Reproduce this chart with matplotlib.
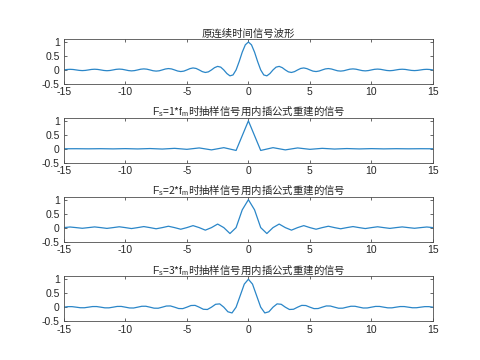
import numpy as np
import matplotlib
matplotlib.use("Agg")
import matplotlib.pyplot as plt

plt.rcParams["font.family"] = ["Liberation Sans", "Noto Sans CJK SC", "DejaVu Sans"]
plt.rcParams["mathtext.fontset"] = "custom"
plt.rcParams["mathtext.rm"] = "Liberation Sans"
plt.rcParams["mathtext.it"] = "Liberation Sans"
plt.rcParams["mathtext.default"] = "rm"
plt.rcParams["axes.unicode_minus"] = False

# values for t >= 0 (curves are symmetric about t = 0)
step_orig = 0.25
orig_half = [1.000, 0.900, 0.637, 0.300, 0.0, -0.180, -0.212, -0.129,
             0.0, 0.100, 0.127, 0.082, 0.0, -0.069, -0.091, -0.060,
             0.0, 0.053, 0.071, 0.047, 0.0, -0.043, -0.058, -0.039,
             0.0, 0.036, 0.049, 0.033, 0.0, -0.031, -0.042, -0.029,
             0.0, 0.027, 0.037, 0.026, 0.0, -0.024, -0.034, -0.023,
             0.0, 0.022, 0.030, 0.021, 0.0, -0.020, -0.028, -0.019,
             0.0, 0.018, 0.025, 0.018, 0.0, -0.017, -0.024, -0.016,
             0.0, 0.016, 0.022, 0.015, 0.0]

step_fs1 = 1.0
fs1_half = [1.0, -0.06, 0.04, -0.04, 0.03, -0.02, 0.015, -0.01,
            0.008, -0.006, 0.005, -0.004, 0.003, -0.002, 0.002, 0.0]

step_fs2 = 0.5
fs2_half = [1.000, 0.637, 0.0, -0.212, 0.0, 0.127, 0.0, -0.091,
            0.0, 0.071, 0.0, -0.058, 0.0, 0.049, 0.0, -0.042,
            0.0, 0.037, 0.0, -0.034, 0.0, 0.030, 0.0, -0.028,
            0.0, 0.025, 0.0, -0.024, 0.0, 0.022, 0.0]

step_fs3 = 1.0 / 3.0
fs3_half = [1.000, 0.827, 0.413, 0.0, -0.207, -0.165, 0.0, 0.118, 0.103,
            0.0, -0.083, -0.075, 0.0, 0.064, 0.059, 0.0, -0.052, -0.049,
            0.0, 0.044, 0.041, 0.0, -0.038, -0.036, 0.0, 0.033, 0.032,
            0.0, -0.030, -0.028, 0.0, 0.027, 0.026, 0.0, -0.024, -0.024,
            0.0, 0.022, 0.022, 0.0, -0.021, -0.020, 0.0, 0.019, 0.019, 0.0]

titles = ["原连续时间信号波形",
          r"$\mathrm{F_s}$=1*$\mathrm{f_m}$时抽样信号用内插公式重建的信号",
          r"$\mathrm{F_s}$=2*$\mathrm{f_m}$时抽样信号用内插公式重建的信号",
          r"$\mathrm{F_s}$=3*$\mathrm{f_m}$时抽样信号用内插公式重建的信号"]

xticks = [-15, -10, -5, 0, 5, 10, 15]
yticks = [-0.5, 0, 0.5, 1]
ytick_labels = ["-0.5", "0", "0.5", "1"]


def full(half, step):
    h = np.array(half)
    y = np.concatenate([h[:0:-1], h])
    n = len(h) - 1
    t = np.arange(-n, n + 1) * step
    return t, y


series = [full(orig_half, step_orig), full(fs1_half, step_fs1),
          full(fs2_half, step_fs2), full(fs3_half, step_fs3)]

fig = plt.figure(figsize=(4.8, 3.6), dpi=100)
bottoms = [0.767, 0.548, 0.329, 0.108]
axc = "#4d4d4d"
for (t, y), title, b in zip(series, titles, bottoms):
    ax = fig.add_axes([0.133, b, 0.769, 0.124])
    ax.plot(t, y, color="#2a86c8", lw=0.9)
    ax.set_xlim(-15, 15)
    ax.set_ylim(-0.5, 1.1)
    ax.set_xticks(xticks)
    ax.set_yticks(yticks)
    ax.set_yticklabels(ytick_labels)
    ax.tick_params(direction="in", top=True, right=True, length=2.5, width=0.6,
                   colors=axc, labelsize=7.5, labelcolor="#262626")
    ax.tick_params(axis="x", pad=2.5)
    ax.tick_params(axis="y", pad=3)
    for s in ax.spines.values():
        s.set_color(axc)
        s.set_linewidth(0.6)
    ax.set_title(title, fontsize=7.5, color="#262626", pad=2,
                 family="Noto Sans CJK SC")

fig.savefig("out.png", dpi=100)
